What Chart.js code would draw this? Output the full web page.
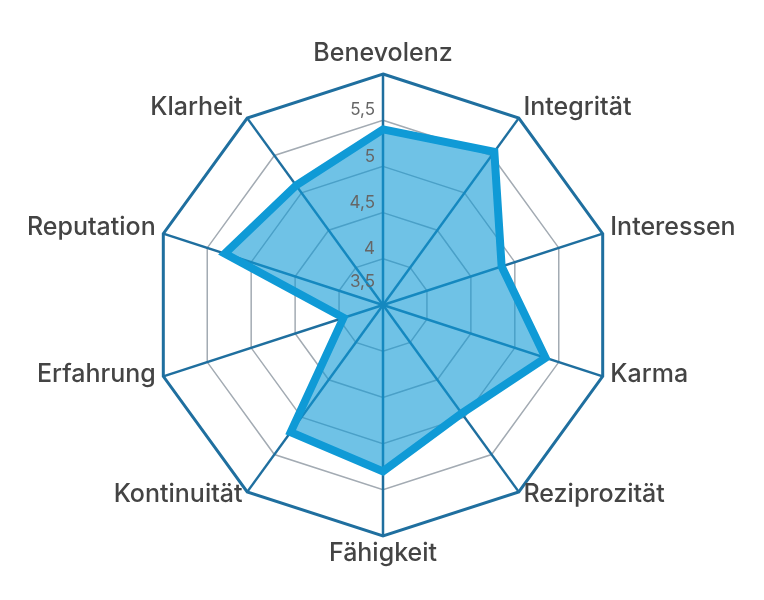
<!DOCTYPE html>
<html lang="de">
<head>
    <meta charset="UTF-8">
    <title>Vertrauensprofil</title>
    <script src="https://cdn.jsdelivr.net/npm/chart.js"></script>
    <style>
        html, body {
            margin: 0;
            padding: 0;
            background: #fff;
        }
        #wrap {
            width: 764px;
            height: 600px;
            position: relative;
        }
    </style>
</head>
<body>
    <div id="wrap"><canvas id="radarChart"></canvas></div>

    <script>
        // Kategorien im Uhrzeigersinn, oben beginnend
        const categories = ['Benevolenz', 'Integrität', 'Interessen', 'Karma', 'Reziprozität',
                            'Fähigkeit', 'Kontinuität', 'Erfahrung', 'Reputation', 'Klarheit'];
        const scores = [5.4, 5.55, 4.85, 5.35, 4.95, 5.3, 5.2, 3.95, 5.3, 5.1];

        const scaleMin = 3.5;
        const scaleMax = 6;
        const scaleStep = 0.5;

        const mainBlue = '#0f9ad6';
        const frameBlue = '#1f6f9f';
        const ringGray = '#a3abb3';

        const fmt = v => String(v).replace('.', ',');

        // Achsenbeschriftungen und Skalenwerte selbst zeichnen (Position aus der Skala)
        const labelPlugin = {
            id: 'labelPlugin',
            afterDatasetsDraw(chart) {
                const scale = chart.scales.r;
                const ctx = chart.ctx;
                ctx.save();

                // Skalenwerte links neben der senkrechten Achse
                ctx.font = '17px Inter, sans-serif';
                ctx.fillStyle = '#666';
                ctx.textAlign = 'right';
                ctx.textBaseline = 'middle';
                scale.ticks.forEach((tick, i) => {
                    const dist = scale.getDistanceFromCenterForValue(tick.value);
                    if (tick.value >= scaleMax) return;
                    const lift = i === 0 ? 23 : 10;
                    ctx.fillText(fmt(tick.value), scale.xCenter - 8, scale.yCenter - dist - lift);
                });

                // Kategorien
                ctx.font = '500 25px Inter, sans-serif';
                ctx.fillStyle = '#444';
                chart.data.labels.forEach((label, i) => {
                    const pos = scale.getPointPosition(i, scale.drawingArea + 8);
                    const deg = Math.round(i * 360 / chart.data.labels.length);
                    let y = pos.y - 4;
                    if (deg === 0) {
                        ctx.textAlign = 'center';
                        ctx.textBaseline = 'bottom';
                        y = pos.y;
                    } else if (deg === 180) {
                        ctx.textAlign = 'center';
                        ctx.textBaseline = 'top';
                        y = pos.y - 3;
                    } else {
                        ctx.textAlign = deg < 180 ? 'left' : 'right';
                        ctx.textBaseline = 'middle';
                    }
                    ctx.fillText(label, pos.x, y);
                });
                ctx.restore();
            }
        };

        new Chart(document.getElementById('radarChart'), {
            type: 'radar',
            data: {
                labels: categories,
                datasets: [{
                    data: scores,
                    borderColor: mainBlue,
                    backgroundColor: 'rgba(15, 154, 214, 0.6)',
                    borderWidth: 8,
                    pointRadius: 0,
                    pointHoverRadius: 0,
                    fill: true
                }]
            },
            options: {
                responsive: true,
                maintainAspectRatio: false,
                animation: false,
                layout: {
                    padding: { top: 74, bottom: 64, left: 2, right: 0 }
                },
                plugins: {
                    legend: { display: false },
                    tooltip: { enabled: false }
                },
                scales: {
                    r: {
                        min: scaleMin,
                        max: scaleMax,
                        ticks: {
                            stepSize: scaleStep,
                            display: false,
                            callback: fmt
                        },
                        pointLabels: { display: false },
                        angleLines: {
                            color: frameBlue,
                            lineWidth: 2.5
                        },
                        grid: {
                            circular: false,
                            color: ctx => ctx.tick && ctx.tick.value >= scaleMax ? frameBlue : ringGray,
                            lineWidth: ctx => ctx.tick && ctx.tick.value >= scaleMax ? 3 : 1.5
                        }
                    }
                }
            },
            plugins: [labelPlugin]
        });
    </script>
</body>
</html>
